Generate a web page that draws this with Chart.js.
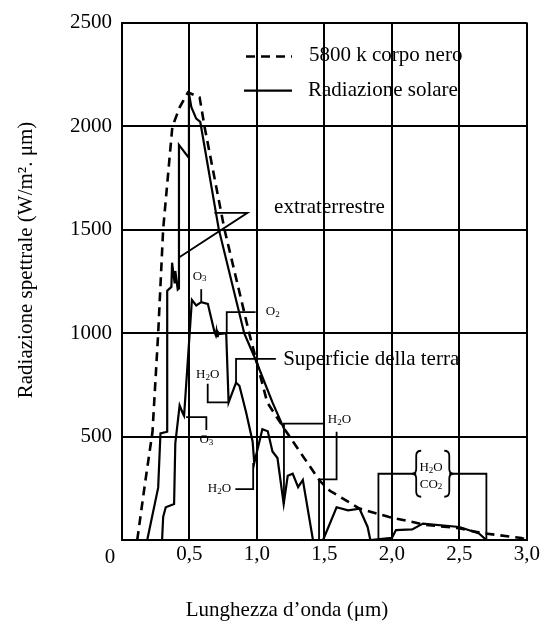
<!DOCTYPE html>
<html>
<head>
<meta charset="utf-8">
<script src="https://cdn.jsdelivr.net/npm/chart.js@4.4.0/dist/chart.umd.min.js"></script>
<style>
  html, body { margin: 0; padding: 0; background: #fff; }
  #wrap { width: 542px; height: 623px; }
</style>
</head>
<body>
<div id="wrap"><canvas id="c"></canvas></div>
<script>
const SERIF = "'Liberation Serif', 'Times New Roman', serif";

// corpo nero 5800 K (tratteggiata)
const bbWave = [0.113, 0.17, 0.226, 0.268, 0.305, 0.373, 0.427, 0.489, 0.575, 0.612, 0.759, 0.943, 1.076, 1.21, 1.466, 1.54, 1.76, 1.98, 2.25, 2.50, 2.67, 2.96, 3.0];
const bbVal  = [0, 271, 523, 998, 1502, 1996, 2091, 2163, 2139, 1996, 1502, 998, 665, 530, 285, 238, 152, 111, 73, 57, 33, 10, 0];

// radiazione solare extraterrestre
const etWave = [0.187, 0.268, 0.285, 0.335, 0.335, 0.366, 0.371, 0.39, 0.395, 0.413, 0.422, 0.422, 0.496, 0.496, 0.514, 0.55, 0.58, 0.717, 0.906, 0.99, 1.115, 1.20];
const etVal  = [0, 253, 515, 523, 1204, 1223, 1340, 1240, 1300, 1210, 1215, 1909, 1846, 2158, 2091, 2036, 2020, 1502, 998, 871, 665, 538];

// radiazione solare sulla superficie della terra
const sfWave = [0.297, 0.305, 0.324, 0.386, 0.395, 0.427, 0.452, 0.46, 0.518, 0.55, 0.587, 0.636, 0.685, 0.695, 0.70, 0.705, 0.71, 0.72, 0.772, 0.79, 0.845, 0.87, 0.919, 0.968, 0.98, 1.04, 1.08, 1.115, 1.152, 1.198, 1.228, 1.265, 1.305, 1.34, 1.415, 1.49, 1.59, 1.675, 1.76, 1.82, 1.84, 2.0, 2.03, 2.15, 2.23, 2.50, 2.645, 2.70, 3.0];
const sfVal  = [0, 111, 158, 174, 467, 650, 610, 600, 1160, 1133, 1149, 1141, 1006, 990, 1010, 985, 1005, 995, 1000, 665, 760, 745, 618, 475, 372, 535, 525, 428, 396, 174, 310, 320, 255, 290, 0, 0, 158, 143, 151, 63, 0, 10, 48, 51, 79, 63, 32, 0, 0];

const seriesNames = ['5800 k corpo nero', 'Radiazione solare'];

// linee di richiamo (lunghezza d'onda, radiazione)
const pointers = [
  [[0.685, 1581], [0.93, 1581], [0.422, 1365]],
  [[0.587, 1149], [0.587, 1212]],
  [[0.776, 1000], [0.776, 1101], [0.99, 1101]],
  [[0.635, 755], [0.635, 665], [0.79, 665]],
  [[0.845, 760], [0.845, 875], [1.14, 875]],
  [[0.475, 594], [0.625, 594], [0.625, 532]],
  [[0.84, 246], [0.972, 246], [0.972, 372]],
  [[1.2, 174], [1.2, 562], [1.49, 562]],
  [[1.46, 0], [1.46, 293], [1.59, 293], [1.59, 523]],
  [[1.9, 0], [1.9, 320], [2.18, 320]],
  [[2.425, 320], [2.70, 320], [2.70, 0]]
];

const labels = [
  { t: 'extraterrestre', x: 1.127, y: 1608, big: true, align: 'left' },
  { t: 'Superficie della terra', x: 1.194, y: 872, big: true, align: 'left' },
  { t: 'O_3', x: 0.575, y: 1275, align: 'center' },
  { t: 'O_2', x: 1.066, y: 1103, align: 'left' },
  { t: 'H_2O', x: 0.635, y: 800, align: 'center' },
  { t: 'O_3', x: 0.625, y: 485, align: 'center' },
  { t: 'H_2O', x: 0.808, y: 250, align: 'right' },
  { t: 'H_2O', x: 1.525, y: 580, align: 'left' },
  { t: 'H_2O', x: 2.29, y: 348, align: 'center' },
  { t: 'CO_2', x: 2.29, y: 270, align: 'center' }
];

// graffe attorno a H2O / CO2
const braces = [{ x: 2.18, y: 320, dir: 1 }, { x: 2.425, y: 320, dir: -1 }];

function pts(xs, ys) { return xs.map((x, i) => ({ x: x, y: ys[i] })); }

function chemParts(s) {
  const out = [];
  for (let i = 0; i < s.length; i++) {
    if (s[i] === '_') { out.push({ c: s[i + 1], sub: true }); i++; }
    else out.push({ c: s[i], sub: false });
  }
  return out;
}

function drawChem(ctx, s, x, y, align) {
  const parts = chemParts(s);
  const main = '13px ' + SERIF, sub = '9px ' + SERIF;
  let w = 0;
  parts.forEach(p => { ctx.font = p.sub ? sub : main; p.w = ctx.measureText(p.c).width; w += p.w; });
  let cx = align === 'center' ? x - w / 2 : align === 'right' ? x - w : x;
  ctx.textAlign = 'left';
  ctx.textBaseline = 'middle';
  parts.forEach(p => {
    ctx.font = p.sub ? sub : main;
    ctx.fillText(p.c, cx, p.sub ? y + 3 : y);
    cx += p.w;
  });
}

const annotate = {
  id: 'annotate',
  afterDatasetsDraw(chart) {
    const { ctx, scales: { x, y }, chartArea } = chart;
    const px = v => x.getPixelForValue(v);
    const py = v => y.getPixelForValue(v);
    ctx.save();
    ctx.strokeStyle = '#000';
    ctx.fillStyle = '#000';
    ctx.lineWidth = 1.8;
    pointers.forEach(line => {
      ctx.beginPath();
      line.forEach((p, i) => i ? ctx.lineTo(px(p[0]), py(p[1])) : ctx.moveTo(px(p[0]), py(p[1])));
      ctx.stroke();
    });
    braces.forEach(b => {
      const bx = px(b.x), by = py(b.y), h = 23, d = b.dir;
      ctx.beginPath();
      ctx.moveTo(bx + 5 * d, by - h);
      ctx.quadraticCurveTo(bx, by - h, bx, by - h + 5);
      ctx.lineTo(bx, by - 5);
      ctx.quadraticCurveTo(bx, by, bx - 4 * d, by);
      ctx.quadraticCurveTo(bx, by, bx, by + 5);
      ctx.lineTo(bx, by + h - 5);
      ctx.quadraticCurveTo(bx, by + h, bx + 5 * d, by + h);
      ctx.stroke();
    });
    labels.forEach(l => {
      if (l.big) {
        ctx.font = '21px ' + SERIF;
        ctx.textAlign = l.align;
        ctx.textBaseline = 'middle';
        ctx.fillText(l.t, px(l.x), py(l.y));
      } else {
        drawChem(ctx, l.t, px(l.x), py(l.y), l.align);
      }
    });

    // legenda
    const lx = chartArea.left, ly = chartArea.top;
    ctx.lineWidth = 2.5;
    ctx.setLineDash([9, 6]);
    ctx.beginPath(); ctx.moveTo(lx + 124, ly + 34); ctx.lineTo(lx + 170, ly + 34); ctx.stroke();
    ctx.setLineDash([]);
    ctx.lineWidth = 2.2;
    ctx.beginPath(); ctx.moveTo(lx + 122, ly + 68); ctx.lineTo(lx + 170, ly + 68); ctx.stroke();
    ctx.font = '21px ' + SERIF;
    ctx.textAlign = 'left';
    ctx.textBaseline = 'middle';
    ctx.fillText(seriesNames[0], lx + 187, ly + 33);
    ctx.fillText(seriesNames[1], lx + 186, ly + 68);

    // origine e titoli degli assi
    ctx.textAlign = 'center';
    ctx.fillText('0', px(0) - 12, py(0) + 17);
    ctx.fillText('Lunghezza d\u2019onda (\u03bcm)', 287, 610);
    ctx.translate(26, 260);
    ctx.rotate(-Math.PI / 2);
    ctx.fillText('Radiazione spettrale (W/m\u00b2. \u03bcm)', 0, 0);
    ctx.restore();
  }
};

new Chart(document.getElementById('c'), {
  type: 'line',
  data: {
    datasets: [
      { label: seriesNames[0], data: pts(bbWave, bbVal), borderColor: '#000', borderWidth: 2.6, borderDash: [9, 6], pointRadius: 0, tension: 0, fill: false },
      { label: 'extraterrestre', data: pts(etWave, etVal), borderColor: '#000', borderWidth: 2.2, pointRadius: 0, tension: 0, fill: false },
      { label: 'Superficie della terra', data: pts(sfWave, sfVal), borderColor: '#000', borderWidth: 2.2, pointRadius: 0, tension: 0, fill: false }
    ]
  },
  options: {
    responsive: true,
    maintainAspectRatio: false,
    animation: false,
    layout: { padding: { top: 14, right: 13, left: 0, bottom: 0 } },
    plugins: { legend: { display: false }, tooltip: { enabled: false } },
    scales: {
      x: {
        type: 'linear', min: 0, max: 3,
        ticks: {
          stepSize: 0.5, padding: 2, color: '#000',
          font: { family: SERIF, size: 21 },
          maxRotation: 0,
          callback: v => v === 0 ? '' : v.toFixed(1).replace('.', ',')
        },
        grid: { color: '#000', lineWidth: 2, drawTicks: false },
        border: { color: '#000', width: 2 },
        afterFit: s => { s.height = 83; }
      },
      y: {
        min: 0, max: 2500,
        ticks: {
          stepSize: 500, padding: 10, color: '#000',
          font: { family: SERIF, size: 21 },
          callback: v => v === 0 ? '' : String(v)
        },
        grid: { color: '#000', lineWidth: 2, drawTicks: false },
        border: { color: '#000', width: 2 },
        afterFit: s => { s.width = 122; }
      }
    }
  },
  plugins: [annotate]
});
</script>
</body>
</html>
